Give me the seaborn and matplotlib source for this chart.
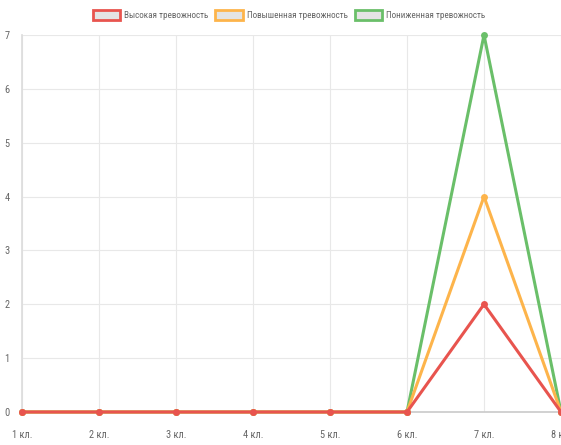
import matplotlib
matplotlib.use("Agg")
import matplotlib.pyplot as plt
from matplotlib.patches import Patch
import seaborn as sns
import pandas as pd

classes = ['1 кл.', '2 кл.', '3 кл.', '4 кл.', '5 кл.', '6 кл.', '7 кл.', '8 кл.']
high = [0, 0, 0, 0, 0, 0, 2, 0]
raised = [0, 0, 0, 0, 0, 0, 4, 0]
lowered = [0, 0, 0, 0, 0, 0, 7, 0]
names = ['Высокая тревожность', 'Повышенная тревожность', 'Пониженная тревожность']
colors = ['#e8544e', '#fdb44b', '#6abf69']

sns.set_theme(style="white")
plt.rcParams['font.family'] = ['Roboto Condensed', 'Liberation Sans Narrow', 'Roboto', 'DejaVu Sans']

fig = plt.figure(figsize=(5.61, 4.45), dpi=100)
ax = fig.add_axes([22 / 561, 33 / 445, 539 / 561, 377 / 445])

series = [high, raised, lowered]
# Chart.js style: first dataset on top, so draw in reverse
for i in [2, 1, 0]:
    df = pd.DataFrame({'x': range(len(classes)), 'y': series[i]})
    sns.lineplot(data=df, x='x', y='y', ax=ax, color=colors[i], linewidth=2.2,
                 marker='o', markersize=5, markeredgewidth=0, zorder=3 + (2 - i),
                 clip_on=False)

ax.set_xlim(0, 7)
ax.set_ylim(0, 7)
ax.set_xticks(range(len(classes)))
ax.set_xticklabels(classes)
ax.set_yticks(range(8))
ax.set_xlabel('')
ax.set_ylabel('')
ax.grid(True, color='#e8e8e8', linewidth=0.8)
for s in ['top', 'right']:
    ax.spines[s].set_visible(False)
ax.spines['left'].set_color('#dddddd')
ax.spines['bottom'].set_color('#cccccc')
ax.tick_params(axis='both', colors='#e6e6e6', labelcolor='#666666', labelsize=7.5,
               length=6, width=0.8, pad=3)
ax.tick_params(axis='x', pad=7)

handles = [Patch(facecolor='#e4e4e4', edgecolor=c, linewidth=2) for c in colors]
fig.legend(handles, names, loc='upper center', bbox_to_anchor=(0.515, 0.995), ncol=3,
           frameon=False, fontsize=6.6, handlelength=3.0, handleheight=1.2,
           columnspacing=0.8, handletextpad=0.4, labelcolor='#666666')

fig.savefig('out.png', dpi=100)
